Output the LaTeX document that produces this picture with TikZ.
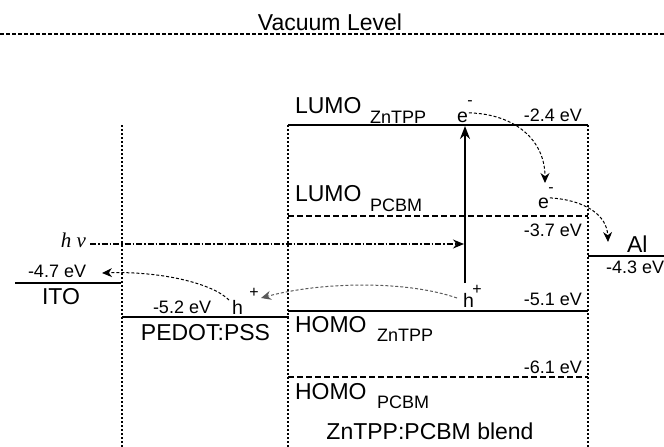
\documentclass[tikz,border=0pt]{standalone}
\usepackage{fontspec}
\setmainfont{Liberation Sans}
\newfontfamily\tnrfont{Liberation Serif}
\usetikzlibrary{arrows.meta}
\newcommand\szA{\fontsize{23}{27}\selectfont}
\newcommand\szB{\fontsize{18}{22}\selectfont}
\newcommand\szC{\fontsize{19.5}{23}\selectfont}
\newcommand\szD{\fontsize{16}{19}\selectfont}
\tikzset{
  lvl/.style={line width=2pt},
  dlvl/.style={line width=2pt, dash pattern=on 6pt off 3pt},
  vac/.style={line width=1.8pt, dash pattern=on 4pt off 2pt},
  bound/.style={line width=1.8pt, dash pattern=on 1.6pt off 2.4pt},
  xfer/.style={line width=1pt, dash pattern=on 3pt off 2pt, -{Stealth[length=10pt,width=9pt]}},
  light/.style={line width=1.2pt, dash pattern=on 6pt off 2pt on 1.5pt off 2pt, -{Stealth[length=11pt,width=9pt]}},
  excite/.style={line width=1.8pt, -{Stealth[length=13pt,width=10pt]}},
  txt/.style={inner sep=0pt, outer sep=0pt},
}
\begin{document}
\begin{tikzpicture}[x=1pt,y=-1pt]
\useasboundingbox (0,0) rectangle (664,447);
% vacuum level
\coordinate (vl) at (0,34); \coordinate (vr) at (664,34);
\draw[vac] (vl) -- (vr);
\node[txt, anchor=base] (vac) at (330,30) {\szA Vacuum Level};
% boundaries
\coordinate (b1t) at (122,125); \coordinate (b1b) at (122,447);
\coordinate (b2t) at (288,125); \coordinate (b2b) at (288,447);
\coordinate (b3t) at (588,125); \coordinate (b3b) at (588,447);
\draw[bound] (b1t) -- (b1b);
\draw[bound] (b2t) -- (b2b);
\draw[bound] (b3t) -- (b3b);
% levels
\coordinate (lzl) at (288,125); \coordinate (lzr) at (588,125);
\draw[lvl] (lzl) -- (lzr);
\coordinate (lpl) at (288,216); \coordinate (lpr) at (588,216);
\draw[dlvl] (lpl) -- (lpr);
\coordinate (hzl) at (288,311); \coordinate (hzr) at (588,311);
\draw[lvl] (hzl) -- (hzr);
\coordinate (hpl) at (288,377); \coordinate (hpr) at (588,377);
\draw[dlvl] (hpl) -- (hpr);
\coordinate (all) at (588,256); \coordinate (alr) at (664,256);
\draw[lvl] (all) -- (alr);
\coordinate (itol) at (15,283); \coordinate (itor) at (121,283);
\draw[lvl] (itol) -- (itor);
\coordinate (pel) at (122,317); \coordinate (per) at (289,317);
\draw[lvl] (pel) -- (per);
% labels
\node[txt, anchor=base west] (lumoZ) at (295,113) {\szA LUMO};
\node[txt, anchor=base west] (lumoZs) at (370,123) {\szB ZnTPP};
\node[txt, anchor=base east] (e24) at (582,121) {\szB -2.4 eV};
\node[txt, anchor=base west] (lumoP) at (295,201) {\szA LUMO};
\node[txt, anchor=base west] (lumoPs) at (370,211) {\szB PCBM};
\node[txt, anchor=base east] (e37) at (582,236) {\szB -3.7 eV};
\node[txt, anchor=base west] (al) at (627,252) {\szA Al};
\node[txt, anchor=base west] (e43) at (606,273) {\szB -4.3 eV};
\node[txt, anchor=base west] (e47) at (28,277) {\szB -4.7 eV};
\node[txt, anchor=base west] (ito) at (42,304) {\szA ITO};
\node[txt, anchor=base west] (e52) at (153,313) {\szB -5.2 eV};
\node[txt, anchor=base] (pedot) at (205.5,340) {\szA PEDOT:PSS};
\node[txt, anchor=base east] (e51) at (582,305) {\szB -5.1 eV};
\node[txt, anchor=base west] (homoZ) at (295,332) {\szA HOMO};
\node[txt, anchor=base west] (homoZs) at (377,341) {\szB ZnTPP};
\node[txt, anchor=base east] (e61) at (582,373) {\szB -6.1 eV};
\node[txt, anchor=base west] (homoP) at (295,399) {\szA HOMO};
\node[txt, anchor=base west] (homoPs) at (377,408) {\szB PCBM};
\node[txt, anchor=base] (blend) at (430,439) {\szA ZnTPP:PCBM blend};
% carriers
\node[txt, anchor=base west] (el1) at (457,122) {\szC e};
\node[txt] (el1m) at (470,103) {\szD -};
\node[txt, anchor=base west] (el2) at (538,208) {\szC e};
\node[txt] (el2m) at (551,190) {\szD -};
\node[txt, anchor=base west] (ho1) at (463,307) {\szC h};
\node[txt] (ho1p) at (477,290) {\szD +};
\node[txt, anchor=base west] (ho2) at (232,314) {\szC h};
\node[txt] (ho2p) at (254,293) {\szD +};
\node[txt, anchor=base east] (hv) at (86,247) {\tnrfont\itshape\fontsize{21}{24}\selectfont h ν};
% excitation arrow
\coordinate (exb) at (465,283); \coordinate (ext) at (465,126);
\draw[excite] (exb) -- (ext);
% light
\coordinate (hvt) at (464,244);
\path (hv.base east) ++(4,-3) coordinate (hvs);
\draw[light] (hvs) -- (hvt);
% transfer arrows
\coordinate (t1) at (545,183);
\path (el1.east) ++(1,-4) coordinate (s1);
\draw[xfer] (s1) .. controls (515,114) and (545,140) .. (t1);
\coordinate (t2) at (608,242);
\path (el2.east) ++(1,-5) coordinate (s2);
\draw[xfer] (s2) .. controls (585,200) and (607,215) .. (t2);
\coordinate (s3) at (457,298); \coordinate (t3) at (261,298);
\draw[xfer, gray!70!black] (s3) .. controls (405,280) and (320,282) .. (t3);
\coordinate (s4) at (229,300); \coordinate (t4) at (102,273);
\draw[xfer] (s4) .. controls (212,283) and (160,271) .. (t4);
\end{tikzpicture}
\end{document}
